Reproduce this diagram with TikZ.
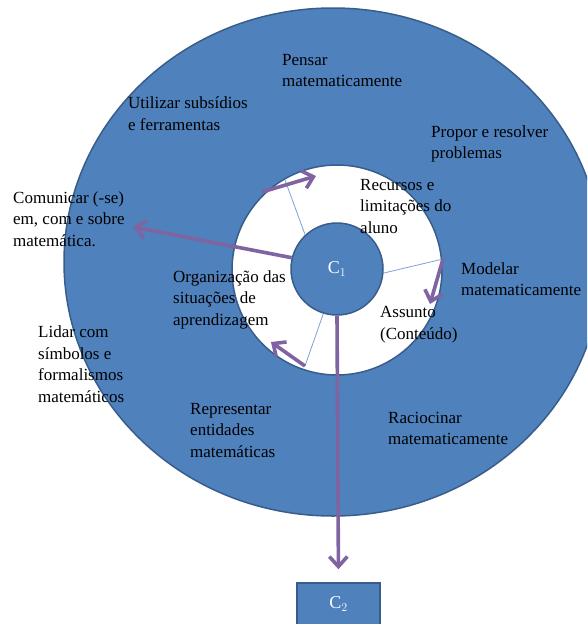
\documentclass[tikz,border=0pt]{standalone}
\usepackage{fontspec}
\setmainfont{Liberation Serif}
\usetikzlibrary{arrows.meta}

\definecolor{ringblue}{HTML}{4F81BD}
\definecolor{edgeblue}{HTML}{385D8A}
\definecolor{spokeblue}{HTML}{7BA3D6}
\definecolor{movepurple}{HTML}{8064A2}

\tikzset{
  ringtext/.style={align=left, anchor=base west, inner sep=0pt, font=\fontsize{17}{21.5}\selectfont},
  spoke/.style={draw=spokeblue, line width=0.8pt},
  move/.style={draw=movepurple, line width=3.6pt, -{Straight Barb[length=10pt,width=18pt]}},
  core/.style={fill=ringblue, draw=edgeblue, line width=1.5pt, text=white, font=\fontsize{18}{20}\selectfont}
}

\begin{document}
\begin{tikzpicture}[x=1pt, y=-1pt]

\useasboundingbox (0,0) rectangle (587,624);
\clip (0,0) rectangle (587,624);

% rings
\draw[fill=ringblue, draw=edgeblue, line width=1.5pt] (333,262) ellipse [x radius=269pt, y radius=254pt];
\draw[fill=white, draw=edgeblue, line width=1.5pt] (337,270) ellipse [x radius=105pt, y radius=105pt];

\node[core, circle, minimum size=92pt, inner sep=0pt] (c1) at (337,269) {C$_1$};
\node[core, rectangle, minimum width=83pt, minimum height=42pt, inner sep=0pt] (c2) at (338.5,604) {C$_2$};

% points on the inner ring
\coordinate (rimA) at (285,180);
\coordinate (rimB) at (443,259);
\coordinate (rimC) at (305,366);
\coordinate (rimD) at (262,192);

% arrow tips
\coordinate (tipA) at (316,176);
\coordinate (tipB) at (430,304);
\coordinate (tipC) at (271,342);
\coordinate (tipD) at (133,227);

\draw[spoke] (c1.133) -- (rimA);
\draw[spoke] (c1.-5) -- (rimB);
\draw[spoke] (c1.253) -- (rimC);

\draw[move] (rimD) -- (tipA);
\draw[move] (rimB) -- (tipB);
\draw[move] (rimC) -- (tipC);
\draw[move] (c1.166) -- (tipD);
\draw[move, shorten >=13pt] (c1.south) -- (c2.north);

% outer ring (y is the baseline of the last line)
\node[ringtext] (pensar) at (282,86.5) {Pensar\\matematicamente};
\node[ringtext] (utilizar) at (128,130) {Utilizar subsídios\\e ferramentas};
\node[ringtext] (propor) at (431,158.5) {Propor e resolver\\problemas};
\node[ringtext] (comunicar) at (13,246) {Comunicar (-se)\\em, com e sobre\\matemática.};
\node[ringtext] (modelar) at (461,295.5) {Modelar\\matematicamente};
\node[ringtext] (lidar) at (38,402) {Lidar com\\símbolos e\\formalismos\\matemáticos};
\node[ringtext] (representar) at (190,457) {Representar\\entidades\\matemáticas};
\node[ringtext] (raciocinar) at (388,444.5) {Raciocinar\\matematicamente};

% inner ring
\node[ringtext] (recursos) at (360,233) {Recursos e\\limitações do\\aluno};
\node[ringtext] (organizacao) at (173,325) {Organização das\\situações de\\aprendizagem};
\node[ringtext] (assunto) at (380,339) {Assunto\\(Conteúdo)};

\end{tikzpicture}
\end{document}
